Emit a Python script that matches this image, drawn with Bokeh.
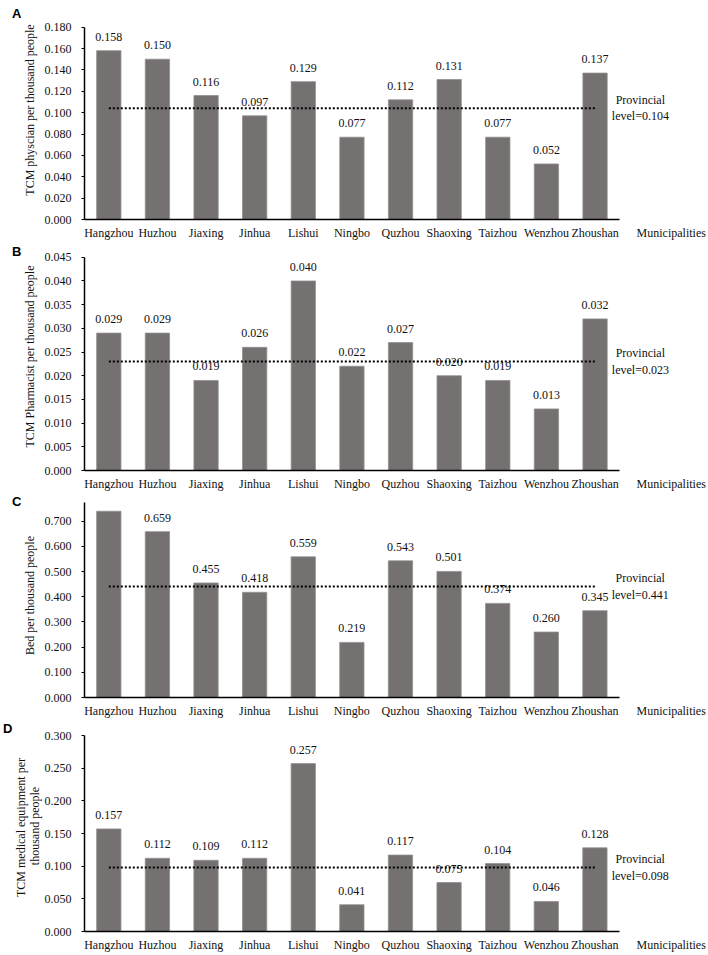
from bokeh.plotting import figure
from bokeh.layouts import column
from bokeh.models import (ColumnDataSource, Label, LinearAxis, FixedTicker,
                          NumeralTickFormatter)
from bokeh.core.properties import value
from bokeh.embed import file_html
from bokeh.resources import INLINE

# Municipalities of Zhejiang province
cities = ["Hangzhou", "Huzhou", "Jiaxing", "Jinhua", "Lishui", "Ningbo",
          "Quzhou", "Shaoxing", "Taizhou", "Wenzhou", "Zhoushan"]

# A: TCM physicians per thousand people
physician = [0.158, 0.150, 0.116, 0.097, 0.129, 0.077, 0.112, 0.131, 0.077, 0.052, 0.137]
physician_prov = 0.104
physician_ticks = [0.000, 0.020, 0.040, 0.060, 0.080, 0.100, 0.120, 0.140, 0.160, 0.180]

# B: TCM pharmacists per thousand people
pharmacist = [0.029, 0.029, 0.019, 0.026, 0.040, 0.022, 0.027, 0.020, 0.019, 0.013, 0.032]
pharmacist_prov = 0.023
pharmacist_ticks = [0.000, 0.005, 0.010, 0.015, 0.020, 0.025, 0.030, 0.035, 0.040, 0.045]

# C: beds per thousand people
bed = [0.740, 0.659, 0.455, 0.418, 0.559, 0.219, 0.543, 0.501, 0.374, 0.260, 0.345]
bed_prov = 0.441
bed_ticks = [0.000, 0.100, 0.200, 0.300, 0.400, 0.500, 0.600, 0.700]

# D: TCM medical equipment per thousand people
equipment = [0.157, 0.112, 0.109, 0.112, 0.257, 0.041, 0.117, 0.075, 0.104, 0.046, 0.128]
equipment_prov = 0.098
equipment_ticks = [0.000, 0.050, 0.100, 0.150, 0.200, 0.250, 0.300]

x_title = "Municipalities"

SERIF = "Liberation Serif"
SANS = "Liberation Sans"
BAR = "#767171"
INK = "#111111"
W = 708
AXIS_RIGHT = 617      # pixel where the category axis ends

panels = [
    # letter, values, provincial, y title, y ticks, y max,
    # fig height, left border, space above y max, bottom border, letter y (px)
    ("A", physician, physician_prov, "TCM physcian per thousand people",
     physician_ticks, 0.180, 242, 71, 27, 20, 13),
    ("B", pharmacist, pharmacist_prov, "TCM Pharmacist per thousand people",
     pharmacist_ticks, 0.045, 251, 71, 15, 20, 6),
    ("C", bed, bed_prov, "Bed per thousand people",
     bed_ticks, 0.775, 227, 72, 9, 22, 7),
    ("D", equipment, equipment_prov, "TCM medical equipment  per\nthousand people",
     equipment_ticks, 0.300, 235, 72, 15, 24, 8),
]


def make_panel(letter, vals, prov, ytitle, yticks, ymax, h, left, top, bottom, letter_px):
    n = len(cities)
    xs = [i + 0.5 for i in range(n)]

    # the frame reaches the right edge and the top of the figure so that
    # side notes are not clipped; the axes themselves stop at the data area
    frame_w = W - left
    unit_px = (AXIS_RIGHT - left) / n
    x_end = frame_w / unit_px
    frame_h = h - bottom
    data_h = frame_h - top
    y_end = ymax * frame_h / data_h
    y_letter = ymax * (frame_h - letter_px) / data_h
    x_note = (W - 4 - left - 34) / unit_px   # centre of the x title

    p = figure(x_range=(0, x_end), y_range=(0, y_end), width=W, height=h,
               output_backend="svg", toolbar_location=None,
               min_border_left=left, min_border_right=0,
               min_border_top=0, min_border_bottom=bottom)
    p.outline_line_color = None
    p.xgrid.visible = False
    p.ygrid.visible = False

    # only label bars whose value text fits below the top of the axis
    labels = [f"{v:.3f}" if v <= 0.92 * ymax else "" for v in vals]
    src = ColumnDataSource(dict(x=xs, val=vals, lab=labels))

    p.vbar(x="x", top="val", width=0.5, source=src,
           fill_color=BAR, line_color="#938f8f", line_width=0.8)
    p.text(x="x", y="val", text="lab", source=src,
           text_font=value(SERIF), text_font_size="12px",
           text_align="center", text_baseline="middle", y_offset=-14,
           text_color=INK)

    # provincial average, from first to last municipality
    p.line(x=[xs[0], xs[-1]], y=[prov, prov],
           line_color="black", line_width=2, line_dash="2 2")
    p.add_layout(Label(x=n, y=prov, x_offset=21,
                       text=f"Provincial\nlevel={prov:.3f}",
                       text_font=SERIF, text_font_size="12px",
                       text_align="center", text_baseline="middle",
                       text_line_height=1.15, text_color=INK))

    # x axis: a bare line over the categories ...
    xa = p.xaxis[0]
    xa.bounds = (0, n)
    xa.ticker = FixedTicker(ticks=[])
    xa.axis_line_width = 1.5
    xa.axis_line_color = "black"
    xa.major_tick_line_color = None
    xa.minor_tick_line_color = None
    xa.major_tick_out = 0
    xa.major_tick_in = 0

    # ... and the category names plus the axis title beneath it
    names = {x: c for x, c in zip(xs, cities)}
    names[x_note] = x_title
    cax = LinearAxis(ticker=FixedTicker(ticks=list(names.keys())),
                     major_label_overrides=names,
                     axis_line_color=None, major_tick_line_color=None,
                     minor_tick_line_color=None, major_tick_out=0,
                     major_tick_in=0, major_label_standoff=6,
                     major_label_text_font=SERIF,
                     major_label_text_font_size="12px",
                     major_label_text_color=INK)
    p.add_layout(cax, "below")

    ya = p.yaxis[0]
    ya.bounds = (0, ymax)
    ya.ticker = FixedTicker(ticks=yticks)
    ya.formatter = NumeralTickFormatter(format="0.000")
    ya.axis_line_width = 1.5
    ya.axis_line_color = "black"
    ya.major_tick_line_color = "black"
    ya.major_tick_line_width = 1.2
    ya.major_tick_out = 3
    ya.major_tick_in = 0
    ya.minor_tick_line_color = None
    ya.major_label_standoff = 10
    ya.major_label_text_font = SERIF
    ya.major_label_text_font_size = "12px"
    ya.major_label_text_color = INK
    ya.axis_label = ytitle
    ya.axis_label_text_font = SERIF
    ya.axis_label_text_font_size = "12px"
    ya.axis_label_text_font_style = "normal"
    ya.axis_label_text_color = INK
    ya.axis_label_standoff = 5 if "\n" not in ytitle else 0
    ya.axis_label_text_line_height = 1.0

    # panel letter at the top left
    lax = LinearAxis(ticker=FixedTicker(ticks=[y_letter]),
                     major_label_overrides={y_letter: letter},
                     axis_line_color=None, major_tick_line_color=None,
                     minor_tick_line_color=None, major_tick_out=0,
                     major_tick_in=0, major_label_standoff=-2,
                     major_label_text_align="left",
                     major_label_text_font=SANS,
                     major_label_text_font_style="bold",
                     major_label_text_font_size="13px",
                     major_label_text_color="black")
    p.add_layout(lax, "left")
    return p


figs = [make_panel(*args) for args in panels]
layout = column(*figs, spacing=0)

open("out.html", "w").write(file_html(layout, INLINE))
